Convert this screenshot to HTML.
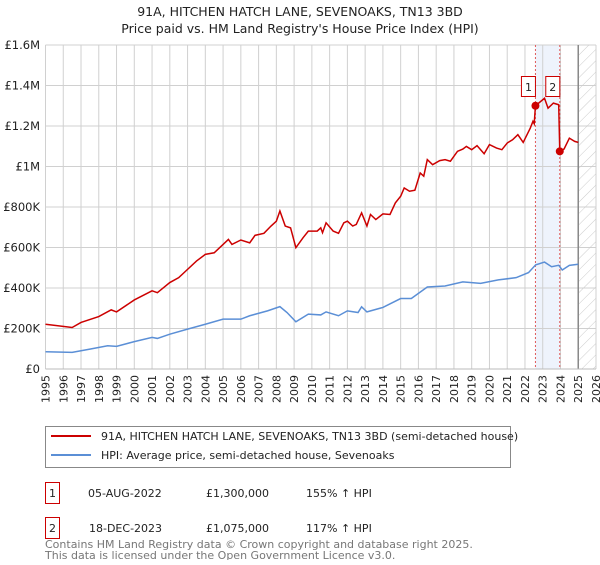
<!DOCTYPE html>
<html><head><meta charset="utf-8"><style>
body{margin:0;width:600px;height:560px;background:#fff;font-family:"Liberation Sans","DejaVu Sans",sans-serif;overflow:hidden}
svg text{font-family:"DejaVu Sans","Liberation Sans",sans-serif}
</style></head><body>
<svg id="c" width="600" height="560" xmlns="http://www.w3.org/2000/svg">
<defs><pattern id="h" width="8" height="8" patternUnits="userSpaceOnUse" patternTransform="rotate(45)"><line x1="0" y1="0" x2="0" y2="8" stroke="#ccc" stroke-width="1"/></pattern></defs>
<text x="300" y="16" text-anchor="middle" font-size="12.5" fill="#222">91A, HITCHEN HATCH LANE, SEVENOAKS, TN13 3BD</text>
<text x="300" y="33" text-anchor="middle" font-size="12.5" fill="#222">Price paid vs. HM Land Registry's House Price Index (HPI)</text>
<g id="grid"></g><g id="marks"></g>
<g>
<rect x="45.5" y="426.5" width="465" height="41" fill="#fff" stroke="#888"/>
<line x1="51" y1="436" x2="91" y2="436" stroke="#cc0000" stroke-width="2"/>
<text x="101" y="440" font-size="11" fill="#222">91A, HITCHEN HATCH LANE, SEVENOAKS, TN13 3BD (semi-detached house)</text>
<line x1="51" y1="455" x2="91" y2="455" stroke="#5b8fd6" stroke-width="2"/>
<text x="101" y="459" font-size="11" fill="#222">HPI: Average price, semi-detached house, Sevenoaks</text>
</g>
<g font-size="11" fill="#222">
<rect x="45.5" y="482.5" width="14" height="21" fill="none" stroke="#cc0000"/><text x="52.5" y="497" text-anchor="middle">1</text>
<text x="88" y="497">05-AUG-2022</text><text x="206" y="497">£1,300,000</text><text x="306" y="497">155% ↑ HPI</text>
<rect x="45.5" y="517.5" width="14" height="21" fill="none" stroke="#cc0000"/><text x="52.5" y="532" text-anchor="middle">2</text>
<text x="89" y="532">18-DEC-2023</text><text x="206" y="532">£1,075,000</text><text x="306" y="532">117% ↑ HPI</text>
</g>
<text x="45" y="548" font-size="11" fill="#777">Contains HM Land Registry data © Crown copyright and database right 2025.</text>
<text x="45" y="559" font-size="11" fill="#777">This data is licensed under the Open Government Licence v3.0.</text>
</svg>
<script>
const yTicks=[0,200000,400000,600000,800000,1000000,1200000,1400000,1600000];
const yTickLabels=["£0","£200K","£400K","£600K","£800K","£1M","£1.2M","£1.4M","£1.6M"];
const xYears=[1995,1996,1997,1998,1999,2000,2001,2002,2003,2004,2005,2006,2007,2008,2009,2010,2011,2012,2013,2014,2015,2016,2017,2018,2019,2020,2021,2022,2023,2024,2025,2026];
const priceT=[1995,1996.5,1997,1998,1998.7,1999,2000,2001,2001.3,2002,2002.5,2003,2003.5,2004,2004.5,2005,2005.3,2005.5,2006,2006.5,2006.8,2007.3,2007.7,2008,2008.2,2008.5,2008.8,2009.1,2009.5,2009.8,2010.3,2010.5,2010.6,2010.8,2011.2,2011.5,2011.8,2012,2012.3,2012.5,2012.8,2013.1,2013.3,2013.6,2014,2014.4,2014.7,2015,2015.2,2015.5,2015.8,2016.1,2016.3,2016.5,2016.8,2017.2,2017.5,2017.8,2018.2,2018.5,2018.7,2019,2019.3,2019.7,2020,2020.4,2020.7,2021,2021.3,2021.6,2021.9,2022.3,2022.45,2022.52,2022.59,2023.1,2023.3,2023.6,2023.9,2023.96,2024.2,2024.5,2024.8,2025];
const priceV=[221,205,230,259,292,282,341,386,377,427,451,492,533,566,574,615,640,615,637,623,660,670,706,730,780,706,697,599,648,681,681,697,673,722,681,670,722,730,706,714,771,706,763,738,766,763,820,853,894,878,883,968,952,1034,1009,1029,1034,1026,1075,1086,1099,1083,1103,1063,1108,1091,1083,1116,1132,1157,1119,1190,1223,1211,1300,1337,1288,1313,1305,1075,1086,1140,1124,1119];
const hpiT=[1995,1996.5,1997.5,1998.5,1999,2000,2001,2001.3,2002,2003,2004,2005,2006,2006.5,2007.5,2008.2,2008.6,2009.1,2009.8,2010.5,2010.8,2011.5,2012,2012.6,2012.8,2013.1,2014,2015,2015.6,2016.5,2017.5,2018.5,2019.5,2020.5,2021.5,2022.2,2022.6,2023.1,2023.5,2023.9,2024.1,2024.5,2025];
const hpiV=[85,82,98,115,112,135,156,151,172,197,221,246,246,263,287,308,279,233,271,267,282,263,287,279,307,282,304,348,348,405,410,430,423,440,451,476,514,528,505,512,489,512,517];
const saleT=[2022.59,2023.96];
const saleV=[1300,1075];
const saleLabels=["1","2"];
const L=45.5,R=596,T=45,B=369;
const x=t=>L+(t-1995)/(2026-1995)*(R-L);
const y=v=>B-v/1600000*(B-T);
const NS="http://www.w3.org/2000/svg";
function mk(p,tag,a){const e=document.createElementNS(NS,tag);for(const k in a)e.setAttribute(k,a[k]);p.appendChild(e);return e;}
const g=document.getElementById('grid'),m=document.getElementById('marks');
let band=mk(g,'rect',{x:x(saleT[0]),y:T,width:x(saleT[1])-x(saleT[0]),height:B-T,fill:'#eef3fc'});


xYears.forEach(yr=>{const l=mk(g,'line',{x1:x(yr),x2:x(yr),y1:T,y2:B,stroke:'#d0d0d0'});


const tx=mk(g,'text',{x:0,y:0,'font-size':11,fill:'#222','text-anchor':'end',transform:`translate(${x(yr)+4},${B+6}) rotate(-90)`});tx.textContent=yr;

});
yTicks.forEach((v,i)=>{const l=mk(g,'line',{x1:L,x2:R,y1:y(v),y2:y(v),stroke:'#d0d0d0'});


const tx=mk(g,'text',{x:40,y:y(v)+4,'font-size':11.5,fill:'#222','text-anchor':'end'});tx.textContent=yTickLabels[i];

});
const hat=mk(g,'rect',{x:x(2025),y:T,width:R-x(2025),height:B-T,fill:'url(#h)'});


const vl=mk(g,'line',{x1:x(2025),x2:x(2025),y1:T,y2:B,stroke:'#888','stroke-width':1.5});


mk(g,'line',{x1:L,x2:R,y1:B,y2:B,stroke:'#bbb'});
saleT.forEach((t,i)=>{const d=mk(g,'line',{x1:x(t),x2:x(t),y1:T,y2:B,stroke:'#e05a5a','stroke-dasharray':'2,2'});


const bx=mk(m,'rect',{x:x(t)-14,y:76.5,width:14,height:20,fill:'#fff',stroke:'#cc0000'});


const tx=mk(m,'text',{x:x(t)-7,y:91,'font-size':11,fill:'#222','text-anchor':'middle'});tx.textContent=saleLabels[i];

});
const hp=mk(m,'polyline',{points:hpiT.map((t,i)=>x(t)+','+y(hpiV[i]*1000)).join(' '),fill:'none',stroke:'#5b8fd6','stroke-width':1.5});


const pp=mk(m,'polyline',{points:priceT.map((t,i)=>x(t)+','+y(priceV[i]*1000)).join(' '),fill:'none',stroke:'#cc0000','stroke-width':1.5});


saleT.forEach((t,i)=>{const c=mk(m,'circle',{cx:x(t),cy:y(saleV[i]*1000),r:4,fill:'#cc0000'});

});
</script>
</body></html>
